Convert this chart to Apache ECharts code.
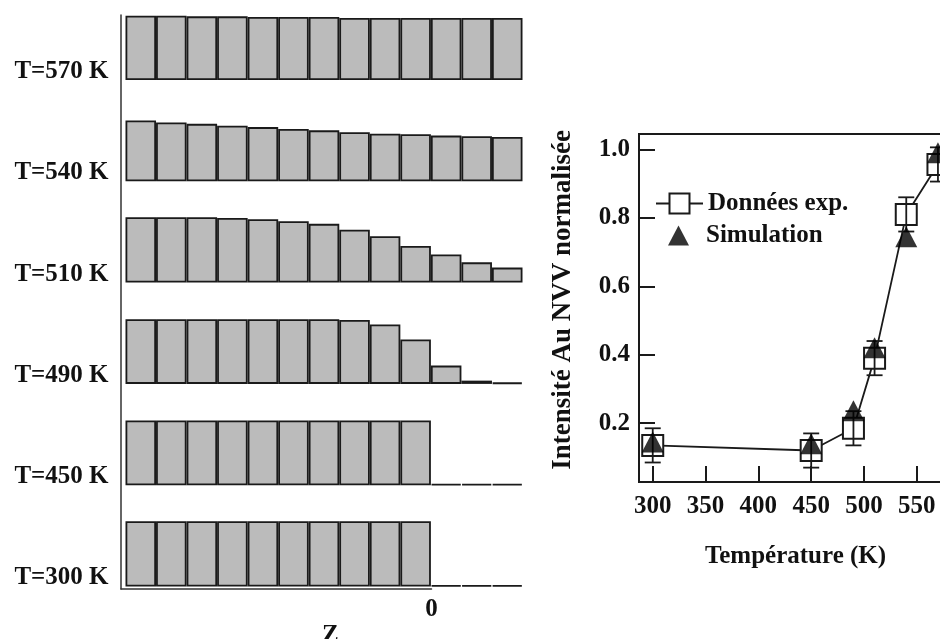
<!DOCTYPE html>
<html>
<head>
<meta charset="utf-8">
<script src="https://cdn.jsdelivr.net/npm/echarts@6/dist/echarts.min.js"></script>
<style>
  html, body { margin: 0; padding: 0; background: #fff; }
  #main { width: 940px; height: 639px; }
</style>
</head>
<body>
<div id="main"></div>
<script>
// Depth slices along Z: ten on the negative side of the origin, three beyond it
const zSlices = ['-10', '-9', '-8', '-7', '-6', '-5', '-4', '-3', '-2', '-1', '0', '1', '2'];

// Annealing temperatures of the stacked profiles (top to bottom)
const panelTemps = [570, 540, 510, 490, 450, 300];

// Normalised Au concentration per slice for each temperature
const profile570 = [0.985, 0.985, 0.975, 0.975, 0.965, 0.965, 0.965, 0.95, 0.95, 0.95, 0.95, 0.95, 0.95];
const profile540 = [0.93, 0.90, 0.88, 0.85, 0.83, 0.80, 0.78, 0.75, 0.73, 0.72, 0.70, 0.69, 0.68];
const profile510 = [1.00, 1.00, 1.00, 0.99, 0.97, 0.94, 0.90, 0.81, 0.71, 0.56, 0.43, 0.31, 0.23];
const profile490 = [0.99, 0.99, 0.99, 0.99, 0.99, 0.99, 0.99, 0.98, 0.91, 0.68, 0.28, 0.05, 0.02];
const profile450 = [0.99, 0.99, 0.99, 0.99, 0.99, 0.99, 0.99, 0.99, 0.99, 0.99, 0.02, 0.02, 0.02];
const profile300 = [1.00, 1.00, 1.00, 1.00, 1.00, 1.00, 1.00, 1.00, 1.00, 1.00, 0.02, 0.02, 0.02];
const profiles = [profile570, profile540, profile510, profile490, profile450, profile300];

// Au NVV intensity versus temperature
const tempK = [300, 450, 490, 510, 540, 570];
const expIntensity = [0.135, 0.12, 0.185, 0.39, 0.81, 0.956];
const expError = [0.05, 0.05, 0.05, 0.05, 0.05, 0.05];
const simIntensity = [0.145, 0.14, 0.236, 0.42, 0.745, 0.99];

// Tick positions
const tempTicks = [300, 350, 400, 450, 500, 550];
const intensityTicks = [0.2, 0.4, 0.6, 0.8, 1.0];
const zTicks = [0];

const FONT = "'Liberation Serif', 'Times New Roman', serif";
const txt = { fontFamily: FONT, fontWeight: 'bold', fontSize: 25, color: '#111' };
const INK = '#1a1a1a';

// Layout of the stacked profile panels
const panelLeft = 125.5, panelWidth = 397, panelHeight = 65.3;
const firstBottom = 80, panelStep = 101.3;

const grids = [], xAxes = [], yAxes = [], series = [];

panelTemps.forEach((t, i) => {
  const bottom = firstBottom + i * panelStep;
  grids.push({ left: panelLeft, width: panelWidth, top: bottom - panelHeight, height: panelHeight,
               outerBoundsMode: 'none' });
  xAxes.push({ gridIndex: i, type: 'category', data: zSlices, show: false });
  yAxes.push({
    gridIndex: i, type: 'value', min: 0, max: 1,
    axisLine: { show: false }, axisTick: { show: false }, splitLine: { show: false },
    axisLabel: {
      customValues: [0.13], margin: 17,
      formatter: () => 'T=' + t + ' K',
      ...txt
    }
  });
  series.push({
    type: 'bar', xAxisIndex: i, yAxisIndex: i, data: profiles[i],
    barCategoryGap: '0%', silent: true,
    itemStyle: { color: '#bbbbbb', borderColor: INK, borderWidth: 1.8 }
  });
});

// Frame of the profile stack: vertical axis on the left, Z axis along the bottom
grids.push({ left: 121, top: 15, width: 310.5, height: 574, outerBoundsMode: 'none' });
xAxes.push({
  gridIndex: 6, type: 'value', min: -10.17, max: 0,
  axisLine: { show: true, onZero: false, lineStyle: { color: '#333', width: 1.5 } },
  axisTick: { show: false }, splitLine: { show: false },
  axisLabel: { customValues: zTicks, margin: 8, ...txt }
});
yAxes.push({
  gridIndex: 6, type: 'value', min: 0, max: 1,
  axisLine: { show: true, onZero: false, lineStyle: { color: '#333', width: 1.5 } },
  axisTick: { show: false }, splitLine: { show: false }, axisLabel: { show: false }
});

// Intensity vs temperature plot (its right side runs past the page edge)
grids.push({ left: 639, top: 134, width: 313, height: 348, show: true, borderColor: INK, borderWidth: 2,
             outerBoundsMode: 'none' });
xAxes.push({
  gridIndex: 7, type: 'value', min: 287, max: 583.3,
  name: 'Température (K)', nameLocation: 'middle', nameGap: 62, nameTextStyle: { ...txt },
  axisLine: { show: true, onZero: false, lineStyle: { color: INK, width: 2 } },
  axisTick: { show: true, inside: true, length: 16, customValues: tempTicks, lineStyle: { color: INK, width: 2 } },
  splitLine: { show: false },
  axisLabel: { customValues: tempTicks, margin: 12, ...txt }
});
yAxes.push({
  gridIndex: 7, type: 'value', min: 0.028, max: 1.045,
  name: 'Intensité Au NVV normalisée', nameLocation: 'middle', nameGap: 62,
  nameTextStyle: { ...txt, fontSize: 27, padding: [0, 0, 0, 16] },
  axisLine: { show: true, onZero: false, lineStyle: { color: INK, width: 2 } },
  axisTick: { show: true, inside: true, length: 16, customValues: intensityTicks, lineStyle: { color: INK, width: 2 } },
  splitLine: { show: false },
  axisLabel: { customValues: intensityTicks, margin: 9, formatter: v => v.toFixed(1), ...txt }
});

series.push({
  name: 'Données exp.', type: 'line', xAxisIndex: 7, yAxisIndex: 7, z: 2,
  data: tempK.map((t, i) => [t, expIntensity[i]]),
  symbol: 'emptyRect', symbolSize: 21, showAllSymbol: true,
  lineStyle: { color: INK, width: 1.8 },
  itemStyle: { color: INK, borderColor: INK, borderWidth: 1.5 }
});
series.push({
  name: 'Erreur', type: 'custom', xAxisIndex: 7, yAxisIndex: 7, z: 3, silent: true,
  data: tempK.map((t, i) => [t, expIntensity[i] - expError[i], expIntensity[i] + expError[i]]),
  encode: { x: 0, y: [1, 2] },
  renderItem: (params, api) => {
    const x = api.value(0);
    const lo = api.coord([x, api.value(1)]);
    const hi = api.coord([x, api.value(2)]);
    const cap = 8;
    const st = { stroke: INK, lineWidth: 1.8 };
    return {
      type: 'group', children: [
        { type: 'line', shape: { x1: lo[0], y1: lo[1], x2: hi[0], y2: hi[1] }, style: st },
        { type: 'line', shape: { x1: lo[0] - cap, y1: lo[1], x2: lo[0] + cap, y2: lo[1] }, style: st },
        { type: 'line', shape: { x1: hi[0] - cap, y1: hi[1], x2: hi[0] + cap, y2: hi[1] }, style: st }
      ]
    };
  }
});
series.push({
  name: 'Simulation', type: 'scatter', xAxisIndex: 7, yAxisIndex: 7, z: 4,
  data: tempK.map((t, i) => [t, simIntensity[i]]),
  symbol: 'triangle', symbolSize: [22, 21],
  itemStyle: { color: '#000' }
});

const chart = echarts.init(document.getElementById('main'), null, { renderer: 'canvas' });
chart.setOption({
  animation: false,
  backgroundColor: '#fff',
  title: { text: 'Z', left: 322, top: 623, padding: 0, textStyle: { ...txt } },
  legend: [
    { data: ['Données exp.'], left: 655, top: 191, padding: 0, itemWidth: 47, itemHeight: 25,
      selectedMode: false, textStyle: { ...txt } },
    { data: ['Simulation'], left: 668, top: 223, padding: 0, itemWidth: 21, itemHeight: 20,
      selectedMode: false, textStyle: { ...txt, padding: [0, 0, 0, 12] } }
  ],
  grid: grids,
  xAxis: xAxes,
  yAxis: yAxes,
  series: series
});
</script>
</body>
</html>
